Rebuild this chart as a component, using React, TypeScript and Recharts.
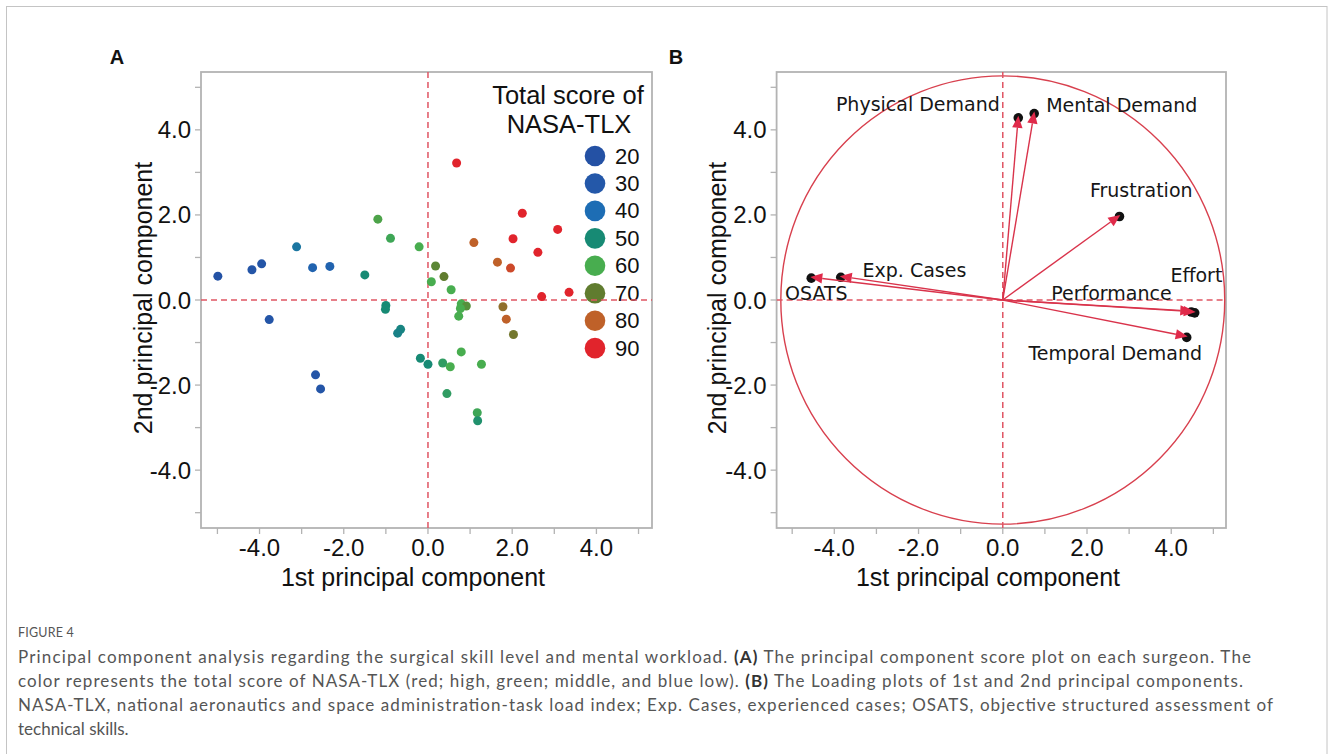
import React from 'react';
import { ScatterChart, Scatter, XAxis, YAxis, ReferenceLine, ReferenceArea } from 'recharts';

// ---------- Panel A: principal component scores ----------
const scoreX = [-4.99, -4.18, -3.95, -3.77, -3.12, -2.74, -2.33, -2.67, -2.55, -1.5, -1.19, -0.89, -0.21, -1.0, -1.01, -0.65, -0.72, -0.18, 0.0, 0.18, 0.08, 0.68, 0.38, 0.55, 0.79, 0.91, 0.77, 0.73, 0.79, 0.35, 0.53, 1.27, 0.45, 1.17, 1.18, 1.09, 1.65, 1.96, 2.02, 2.24, 2.61, 3.08, 2.7, 3.35, 1.78, 1.86, 2.03];
const scoreY = [0.56, 0.71, 0.85, -0.46, 1.25, 0.76, 0.79, -1.76, -2.09, 0.59, 1.9, 1.45, 1.25, -0.13, -0.22, -0.69, -0.78, -1.37, -1.51, 0.8, 0.43, 3.22, 0.55, 0.24, -0.09, -0.14, -0.2, -0.38, -1.22, -1.48, -1.57, -1.51, -2.2, -2.65, -2.84, 1.35, 0.89, 0.75, 1.44, 2.04, 1.12, 1.66, 0.08, 0.18, -0.16, -0.45, -0.81];
const scoreTLX = [22, 25, 25, 25, 43, 35, 35, 25, 25, 50, 62, 58, 60, 50, 50, 48, 47, 50, 50, 68, 60, 90, 70, 60, 60, 66, 60, 60, 60, 55, 60, 60, 55, 58, 52, 80, 80, 84, 90, 90, 90, 90, 90, 90, 75, 80, 72];

const legendValues = [20, 30, 40, 50, 60, 70, 80, 90];
const legendColors = ['#2451a4', '#2458a9', '#1d6db4', '#178a74', '#48ad4f', '#607c2f', '#bf6129', '#e1242c'];

// ---------- Panel B: loading plot ----------
const loadingNames = ['Mental Demand', 'Physical Demand', 'Temporal Demand', 'Performance', 'Effort', 'Frustration', 'Exp. Cases', 'OSATS'];
const loadingX = [0.75, 0.37, 4.39, 4.5, 4.58, 2.79, -3.87, -4.57];
const loadingY = [4.43, 4.33, -0.86, -0.26, -0.28, 2.0, 0.56, 0.54];
const labelX = [1.03, -0.07, 0.61, 1.15, 3.98, 2.07, -3.33, -5.17];
const labelY = [4.59, 4.6, -1.25, 0.16, 0.59, 2.59, 0.71, 0.16];
const labelAnchor = ['start', 'end', 'start', 'start', 'start', 'start', 'start', 'start'];
const circleRadius = 5.27;

const axisTicks = [-5, -4, -3, -2, -1, 0, 1, 2, 3, 4, 5];
const domainAX: [number, number] = [-5.39, 5.32];
const domainBX: [number, number] = [-5.37, 5.3];
const domainY: [number, number] = [-5.36, 5.36];

const FONT = "'Liberation Sans', Arial, sans-serif";
const LABEL_FONT = "'DejaVu Sans', Verdana, sans-serif";
const CAP_FONT = "Lato, 'Open Sans', sans-serif";
const RED = '#e05563';
const FRAME = '#b3b3b3';

const hex = (c: string) => [1, 3, 5].map((i) => parseInt(c.slice(i, i + 2), 16));
const colorFor = (v: number) => {
  if (v <= legendValues[0]) return legendColors[0];
  for (let i = 0; i < legendValues.length - 1; i++) {
    if (v <= legendValues[i + 1]) {
      const t = (v - legendValues[i]) / (legendValues[i + 1] - legendValues[i]);
      const a = hex(legendColors[i]);
      const b = hex(legendColors[i + 1]);
      return `rgb(${a.map((c, k) => Math.round(c + (b[k] - c) * t)).join(',')})`;
    }
  }
  return legendColors[legendColors.length - 1];
};

const scoreData = scoreX.map((x, i) => ({ x, y: scoreY[i], tlx: scoreTLX[i] }));
const loadingData = loadingX.map((x, i) => ({ x, y: loadingY[i], name: loadingNames[i] }));
const labelData = labelX.map((x, i) => ({ x, y: labelY[i], name: loadingNames[i], anchor: labelAnchor[i] }));

const fmt = (v: number) => (Math.round(v) % 2 === 0 ? v.toFixed(1) : '');

const ScorePoint = (p: any) => (
  <circle cx={p.cx} cy={p.cy} r={4.5} fill={colorFor(p.payload.tlx)} />
);

const LabelShape = (p: any) => (
  <text x={p.cx} y={p.cy} textAnchor={p.payload.anchor} dominantBaseline="central" fontSize={19} fontFamily={LABEL_FONT} fill="#161616">
    {p.payload.name}
  </text>
);

const ArrowShape = (p: any) => {
  const { x1, y1, x2, y2 } = p;
  const dx = x2 - x1;
  const dy = y2 - y1;
  const len = Math.hypot(dx, dy) || 1;
  const ux = dx / len;
  const uy = dy / len;
  const L = 12;
  const Wd = 5.2;
  const bx = x2 - ux * L;
  const by = y2 - uy * L;
  const pts = `${x2},${y2} ${bx - uy * Wd},${by + ux * Wd} ${bx + uy * Wd},${by - ux * Wd}`;
  return (
    <g>
      <line x1={x1} y1={y1} x2={bx} y2={by} stroke="#d9334b" strokeWidth={1.4} />
      <circle cx={x2 - ux * 1} cy={y2 - uy * 1 + 1} r={4.8} fill="#111" />
      <polygon points={pts} fill="#e02a4a" />
    </g>
  );
};

const CircleShape = (p: any) => (
  <ellipse cx={p.x + p.width / 2} cy={p.y + p.height / 2} rx={Math.abs(p.width) / 2} ry={Math.abs(p.height) / 2} fill="none" stroke="#d8404e" strokeWidth={1.4} />
);

const FrameShape = (p: any) => (
  <rect x={p.x} y={p.y} width={p.width} height={p.height} fill="none" stroke={FRAME} strokeWidth={1.8} />
);

const axisCommon = {
  type: 'number' as const,
  ticks: axisTicks,
  interval: 0 as const,
  tickFormatter: fmt,
  allowDataOverflow: true,
  axisLine: false,
  tickLine: { stroke: FRAME, strokeWidth: 1.3 },
  tickSize: 6,
  tick: { fill: '#111', fontSize: 24, fontFamily: FONT },
};

const PanelA = () => (
  <ScatterChart width={670} height={610} margin={{ top: 72, right: 18, bottom: 22, left: 141 }}>
    <XAxis dataKey="x" domain={domainAX} height={60} tickMargin={5} {...axisCommon} />
    <YAxis dataKey="y" domain={domainY} width={60} tickMargin={4} {...axisCommon} />
    <ReferenceArea x1={domainAX[0]} x2={domainAX[1]} y1={domainY[0]} y2={domainY[1]} shape={FrameShape} ifOverflow="visible" />
    <ReferenceLine x={0} stroke={RED} strokeWidth={1.5} strokeDasharray="6 4" />
    <ReferenceLine y={0} stroke={RED} strokeWidth={1.5} strokeDasharray="6 4" />
    <Scatter data={scoreData} shape={ScorePoint} isAnimationActive={false} />
  </ScatterChart>
);

const PanelB = () => (
  <ScatterChart width={580} height={610} margin={{ top: 72, right: 24, bottom: 22, left: 46.6 }}>
    <XAxis dataKey="x" domain={domainBX} height={60} tickMargin={5} {...axisCommon} />
    <YAxis dataKey="y" domain={domainY} width={60} tickMargin={4} {...axisCommon} />
    <ReferenceArea x1={domainBX[0]} x2={domainBX[1]} y1={domainY[0]} y2={domainY[1]} shape={FrameShape} ifOverflow="visible" />
    <ReferenceArea x1={-circleRadius} x2={circleRadius} y1={-circleRadius} y2={circleRadius} shape={CircleShape} ifOverflow="visible" />
    <ReferenceLine x={0} stroke={RED} strokeWidth={1.5} strokeDasharray="6 4" />
    <ReferenceLine y={0} stroke={RED} strokeWidth={1.5} strokeDasharray="6 4" />
    {loadingData.map((d) => (
      <ReferenceLine key={d.name} segment={[{ x: 0, y: 0 }, { x: d.x, y: d.y }]} shape={ArrowShape} ifOverflow="visible" />
    ))}
    <Scatter data={labelData} shape={LabelShape} isAnimationActive={false} />
  </ScatterChart>
);

export default function App() {
  return (
    <div style={{ position: 'absolute', left: 0, top: 0, width: 1330, height: 754, overflow: 'hidden', background: '#fff' }}>
      <svg width={1330} height={754} style={{ position: 'absolute', left: 0, top: 0 }}>
        <rect x={6.5} y={6.5} width={1320.5} height={800} fill="none" stroke="#c4c4c4" strokeWidth={1} />
        <text x={117} y={57} textAnchor="middle" dominantBaseline="central" fontSize={20} fontWeight="bold" fontFamily={FONT} fill="#111">A</text>
        <text x={676} y={57} textAnchor="middle" dominantBaseline="central" fontSize={20} fontWeight="bold" fontFamily={FONT} fill="#111">B</text>
        {/* axis titles */}
        <text x={413} y={577} textAnchor="middle" dominantBaseline="central" fontSize={25} fontFamily={FONT} fill="#111">1st principal component</text>
        <text x={143} y={298} transform="rotate(-90 143 298)" textAnchor="middle" dominantBaseline="central" fontSize={25} fontFamily={FONT} fill="#111">2nd principal component</text>
        <text x={988} y={577} textAnchor="middle" dominantBaseline="central" fontSize={25} fontFamily={FONT} fill="#111">1st principal component</text>
        <text x={717} y={298} transform="rotate(-90 717 298)" textAnchor="middle" dominantBaseline="central" fontSize={25} fontFamily={FONT} fill="#111">2nd principal component</text>
        {/* legend */}
        <text x={568} y={95} textAnchor="middle" dominantBaseline="central" fontSize={25.5} fontFamily={FONT} fill="#111">Total score of</text>
        <text x={569} y={124} textAnchor="middle" dominantBaseline="central" fontSize={25.5} fontFamily={FONT} fill="#111">NASA-TLX</text>
        {legendValues.map((v, i) => (
          <g key={v}>
            <circle cx={595} cy={156 + i * 27.45} r={10.3} fill={legendColors[i]} />
            <text x={615} y={156 + i * 27.45} dominantBaseline="central" fontSize={22} fontFamily={FONT} fill="#111">{v}</text>
          </g>
        ))}
        {/* caption */}
        <text x={18} y={637} fontSize={12.5} fontFamily={CAP_FONT} fill="#555" letterSpacing={0.2}>FIGURE 4</text>
        <text x={18} y={663} fontSize={17} fontFamily={CAP_FONT} fill="#555" textLength={1233} lengthAdjust="spacing">
          Principal component analysis regarding the surgical skill level and mental workload. <tspan fontWeight="bold" fill="#333">(A)</tspan> The principal component score plot on each surgeon. The
        </text>
        <text x={18} y={687} fontSize={17} fontFamily={CAP_FONT} fill="#555" textLength={1225} lengthAdjust="spacing">
          color represents the total score of NASA-TLX (red; high, green; middle, and blue low). <tspan fontWeight="bold" fill="#333">(B)</tspan> The Loading plots of 1st and 2nd principal components.
        </text>
        <text x={18} y={711} fontSize={17} fontFamily={CAP_FONT} fill="#555" textLength={1255} lengthAdjust="spacing">
          NASA-TLX, national aeronautics and space administration-task load index; Exp. Cases, experienced cases; OSATS, objective structured assessment of
        </text>
        <text x={18} y={735} fontSize={17} fontFamily={CAP_FONT} fill="#555">technical skills.</text>
      </svg>
      <div style={{ position: 'absolute', left: 0, top: 0 }}>
        <PanelA />
      </div>
      <div style={{ position: 'absolute', left: 670, top: 0 }}>
        <PanelB />
      </div>
    </div>
  );
}
